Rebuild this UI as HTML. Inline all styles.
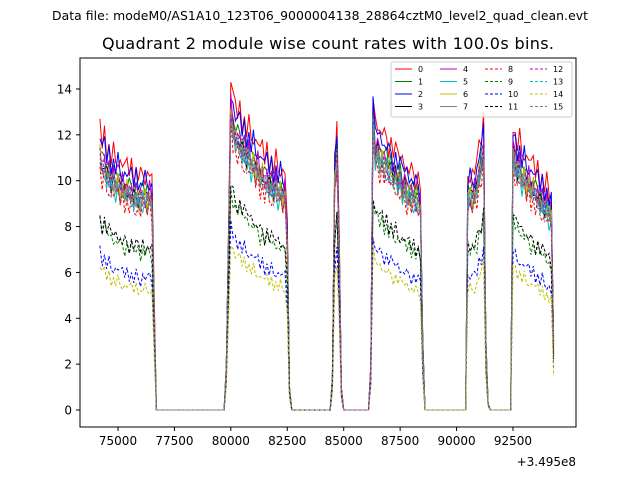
<!DOCTYPE html>
<html><head><meta charset="utf-8"><style>
body{margin:0;background:#fff;font-family:"Liberation Sans","DejaVu Sans",sans-serif}
svg text{font-family:"DejaVu Sans","Liberation Sans",sans-serif}
</style></head><body>
<svg id="chart" width="640" height="480" xmlns="http://www.w3.org/2000/svg">
<rect width="640" height="480" fill="#fff"/>
<text x="320" y="20" font-size="12.4" text-anchor="middle" textLength="536">Data file: modeM0/AS1A10_123T06_9000004138_28864cztM0_level2_quad_clean.evt</text>
<text x="328" y="49" font-size="16" text-anchor="middle" textLength="452">Quadrant 2 module wise count rates with 100.0s bins.</text>
<g id="plot"></g>
<rect x="80" y="58" width="496" height="369" fill="none" stroke="#000" stroke-width="1"/>
<g id="axes"></g>
<g id="legend"></g>
</svg>
<script>
const tStart = 74200, tStep = 100;
const profile = [12.4,11.6,12.0,11.3,11.5,11.0,11.2,10.9,11.1,10.7,10.8,10.5,10.7,10.4,10.6,10.2,10.5,10.3,10.1,10.4,10.3,10.2,10.4,10.0,
5,
0,0,0,0,0,0,0,0,0,0,0,0,0,0,0,0,0,0,0,0,0,0,0,0,0,0,0,0,0,0,0,
2,8,14.5,13.6,13.2,12.9,13.1,12.5,12.7,12.2,12.4,11.9,12.1,11.6,11.8,11.2,11.5,10.9,11.3,10.8,11.0,10.6,10.9,10.5,10.7,10.3,10.5,
8,1,
0,0,0,0,0,0,0,0,0,0,0,0,0,0,0,0,0,0,
1.5,11,12.4,8,1,
0,0,0,0,0,0,0,0,0,0,0,0,
2,13.8,12.4,12.6,12.1,12.3,11.8,12.0,11.5,11.7,11.2,11.4,11.0,11.1,10.7,10.9,10.5,10.6,10.3,10.4,10.1,10.2,9.8,
3,
0,0,0,0,0,0,0,0,0,0,0,0,0,0,0,0,0,0,0,
10.3,10.4,10.3,10.5,10.7,11.5,11.7,12.6,
3,0.3,
0,0,0,0,0,0,0,0,0,0,
12.5,12.0,11.6,11.8,11.2,11.4,10.9,11.1,10.6,10.8,10.3,10.5,10.0,10.2,9.8,9.9,9.5,9.3,
3];
const seriesScale = [1.0,0.93,0.97,0.9,0.92,0.87,0.9,0.88,0.85,0.67,0.56,0.69,0.9,0.89,0.51,0.88];
const wiggle = [0.3,-0.2,0.4,-0.4,0.1,-0.3,0.5,-0.1,-0.5,0.2,-0.2,0.3];
const seriesLabels = ["0","1","2","3","4","5","6","7","8","9","10","11","12","13","14","15"];
const xTicks = [75000,77500,80000,82500,85000,87500,90000,92500];
const yTicks = [0,2,4,6,8,10,12,14];
const colors = ["#ff0000","#008000","#0000ff","#000000","#bf00bf","#00bfbf","#bfbf00","#808080"];
const NS="http://www.w3.org/2000/svg";
const X = t => 118 + (t-75000)*0.02257;
const Y = v => 410 - v*22.93;
const plot=document.getElementById('plot'), axes=document.getElementById('axes'), leg=document.getElementById('legend');
function mk(tag,attrs,parent){const e=document.createElementNS(NS,tag);for(const k in attrs)e.setAttribute(k,attrs[k]);parent.appendChild(e);return e;}
for(let s=0;s<16;s++){
  const sc=seriesScale[s];
  const pts=profile.map((p,i)=>{let v=p*sc; if(p>2) v+=wiggle[(i+s*5)%12]*sc; return X(tStart+i*tStep).toFixed(1)+','+Y(v).toFixed(1);});
  const pl=mk('polyline',{points:pts.join(' '),fill:'none',stroke:colors[s%8],'stroke-width':1,'stroke-dasharray':s>=8?'3,2':'none'},plot);
  
  
}
xTicks.forEach(t=>{
  const x=X(t);
  mk('line',{x1:x,y1:427,x2:x,y2:431,stroke:'#000'},axes);
  const tx=mk('text',{x:x,y:445,'font-size':12,'text-anchor':'middle'},axes);tx.textContent=t;
  
  
});
const off=mk('text',{x:576,y:466,'font-size':12,'text-anchor':'end'},axes);off.textContent='+3.495e8';


yTicks.forEach(v=>{
  const y=Y(v);
  mk('line',{x1:76,y1:y,x2:80,y2:y,stroke:'#000'},axes);
  const tx=mk('text',{x:72,y:y+4.5,'font-size':12,'text-anchor':'end'},axes);tx.textContent=v;
  
  
});
const lb=mk('rect',{x:391,y:62,width:181,height:55,rx:2,fill:'#fff','fill-opacity':0.8,stroke:'#ccc'},leg);


for(let s=0;s<16;s++){
  const col=Math.floor(s/4), row=s%4;
  const x=395+col*45, y=69+row*12.5;
  const g=mk('g',{},leg);
  
  
  mk('line',{x1:x,y1:y,x2:x+17,y2:y,stroke:colors[s%8],'stroke-width':1,'stroke-dasharray':s>=8?'3,2':'none'},g);
  const t=mk('text',{x:x+23,y:y+3,'font-size':8},g);t.textContent=seriesLabels[s];
}
</script>
</body></html>
